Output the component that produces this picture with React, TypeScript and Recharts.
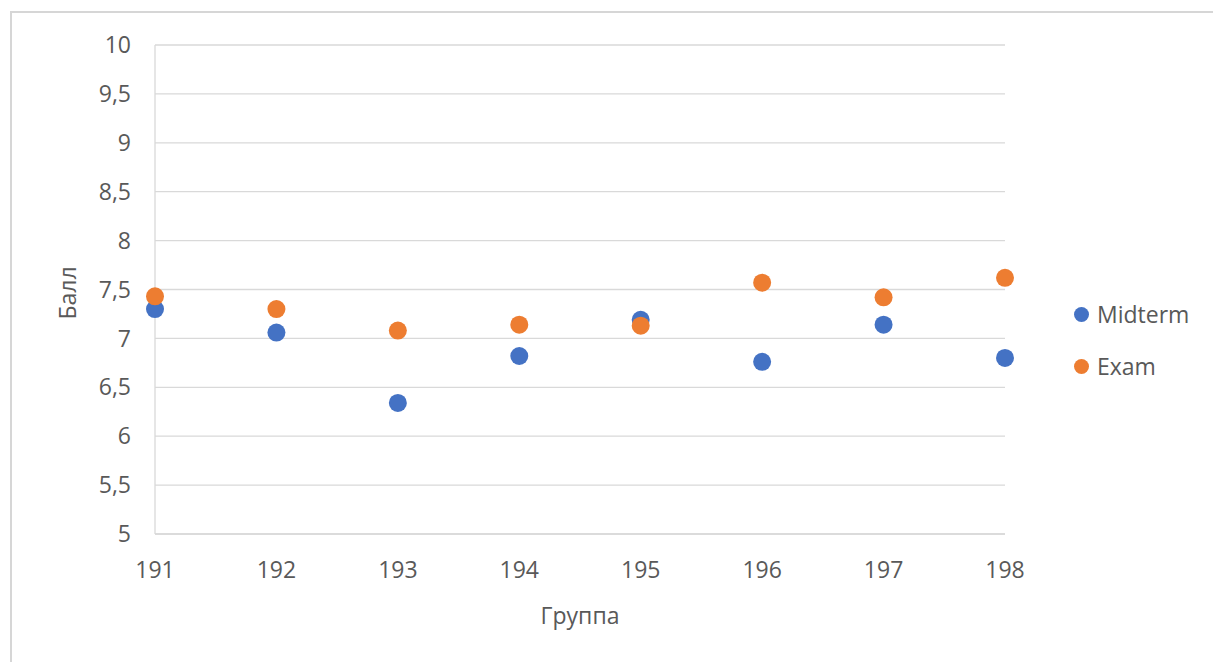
import { ScatterChart, Scatter, XAxis, YAxis, CartesianGrid, Label } from "recharts";

const groups = [191, 192, 193, 194, 195, 196, 197, 198];
const midterm = [7.3, 7.06, 6.34, 6.82, 7.19, 6.76, 7.14, 6.8];
const exam = [7.43, 7.3, 7.08, 7.14, 7.13, 7.57, 7.42, 7.62];
const yTicks = [5, 5.5, 6, 6.5, 7, 7.5, 8, 8.5, 9, 9.5, 10];
const seriesNames = ["Midterm", "Exam"];

const BLUE = "#4472C4";
const ORANGE = "#ED7D31";
const TEXT = "#595959";
const GRID = "#d9d9d9";
const FONT = "'Open Sans', sans-serif";

const midtermData = groups.map((g, i) => ({ group: g, value: midterm[i] }));
const examData = groups.map((g, i) => ({ group: g, value: exam[i] }));

const dot = (color: string) => (props: any) =>
  <circle cx={props.cx} cy={props.cy} r={9} fill={color} />;

function LegendBox() {
  const colors = [BLUE, ORANGE];
  return (
    <div
      style={{
        position: "absolute",
        left: 1074,
        top: 288,
        fontFamily: FONT,
        fontSize: 23,
        color: TEXT,
      }}
    >
      {seriesNames.map((name, i) => (
        <div key={name} style={{ display: "flex", alignItems: "center", height: 52 }}>
          <span
            style={{
              width: 15,
              height: 15,
              borderRadius: "50%",
              background: colors[i],
              display: "inline-block",
              marginRight: 8,
            }}
          />
          {name}
        </div>
      ))}
    </div>
  );
}

export default function App() {
  return (
    <div style={{ position: "absolute", left: 0, top: 0, width: 1213, height: 662, background: "#fff" }}>
      <div
        style={{
          position: "absolute",
          left: 10,
          top: 11,
          right: 0,
          bottom: 0,
          borderTop: "2px solid #d6d6d6",
          borderLeft: "2px solid #d6d6d6",
        }}
      />
      <ScatterChart
        width={1213}
        height={662}
        margin={{ top: 45, right: 208, bottom: 48, left: 0 }}
        style={{ position: "absolute", left: 0, top: 0 }}
      >
        <CartesianGrid vertical={false} stroke={GRID} strokeWidth={1.3} />
        <XAxis
          type="number"
          dataKey="group"
          domain={[191, 198]}
          ticks={groups}
          height={80}
          tickLine={false}
          tickSize={0}
          tickMargin={28}
          axisLine={{ stroke: GRID, strokeWidth: 1.3 }}
          tick={{ fill: TEXT, fontSize: 23, fontFamily: FONT }}
        >
          <Label
            content={({ viewBox }: any) => (
              <text
                x={viewBox.x + viewBox.width / 2}
                y={615}
                textAnchor="middle"
                dominantBaseline="central"
                fill={TEXT}
                fontSize={23}
                fontFamily={FONT}
              >
                Группа
              </text>
            )}
          />
        </XAxis>
        <YAxis
          type="number"
          dataKey="value"
          domain={[5, 10]}
          ticks={yTicks}
          width={155}
          tickLine={false}
          tickSize={0}
          tickMargin={24}
          axisLine={{ stroke: GRID, strokeWidth: 1.3 }}
          tickFormatter={(v: number) => String(v).replace(".", ",")}
          tick={{ fill: TEXT, fontSize: 23, fontFamily: FONT }}
        >
          <Label
            content={({ viewBox }: any) => {
              const x = viewBox.x + 67;
              const y = 293;
              return (
                <text
                  x={x}
                  y={y}
                  transform={`rotate(-90 ${x} ${y})`}
                  textAnchor="middle"
                  dominantBaseline="central"
                  fill={TEXT}
                  fontSize={23}
                  fontFamily={FONT}
                >
                  Балл
                </text>
              );
            }}
          />
        </YAxis>
        <Scatter name={seriesNames[0]} data={midtermData} fill={BLUE} shape={dot(BLUE)} isAnimationActive={false} />
        <Scatter name={seriesNames[1]} data={examData} fill={ORANGE} shape={dot(ORANGE)} isAnimationActive={false} />
      </ScatterChart>
      <LegendBox />
    </div>
  );
}
